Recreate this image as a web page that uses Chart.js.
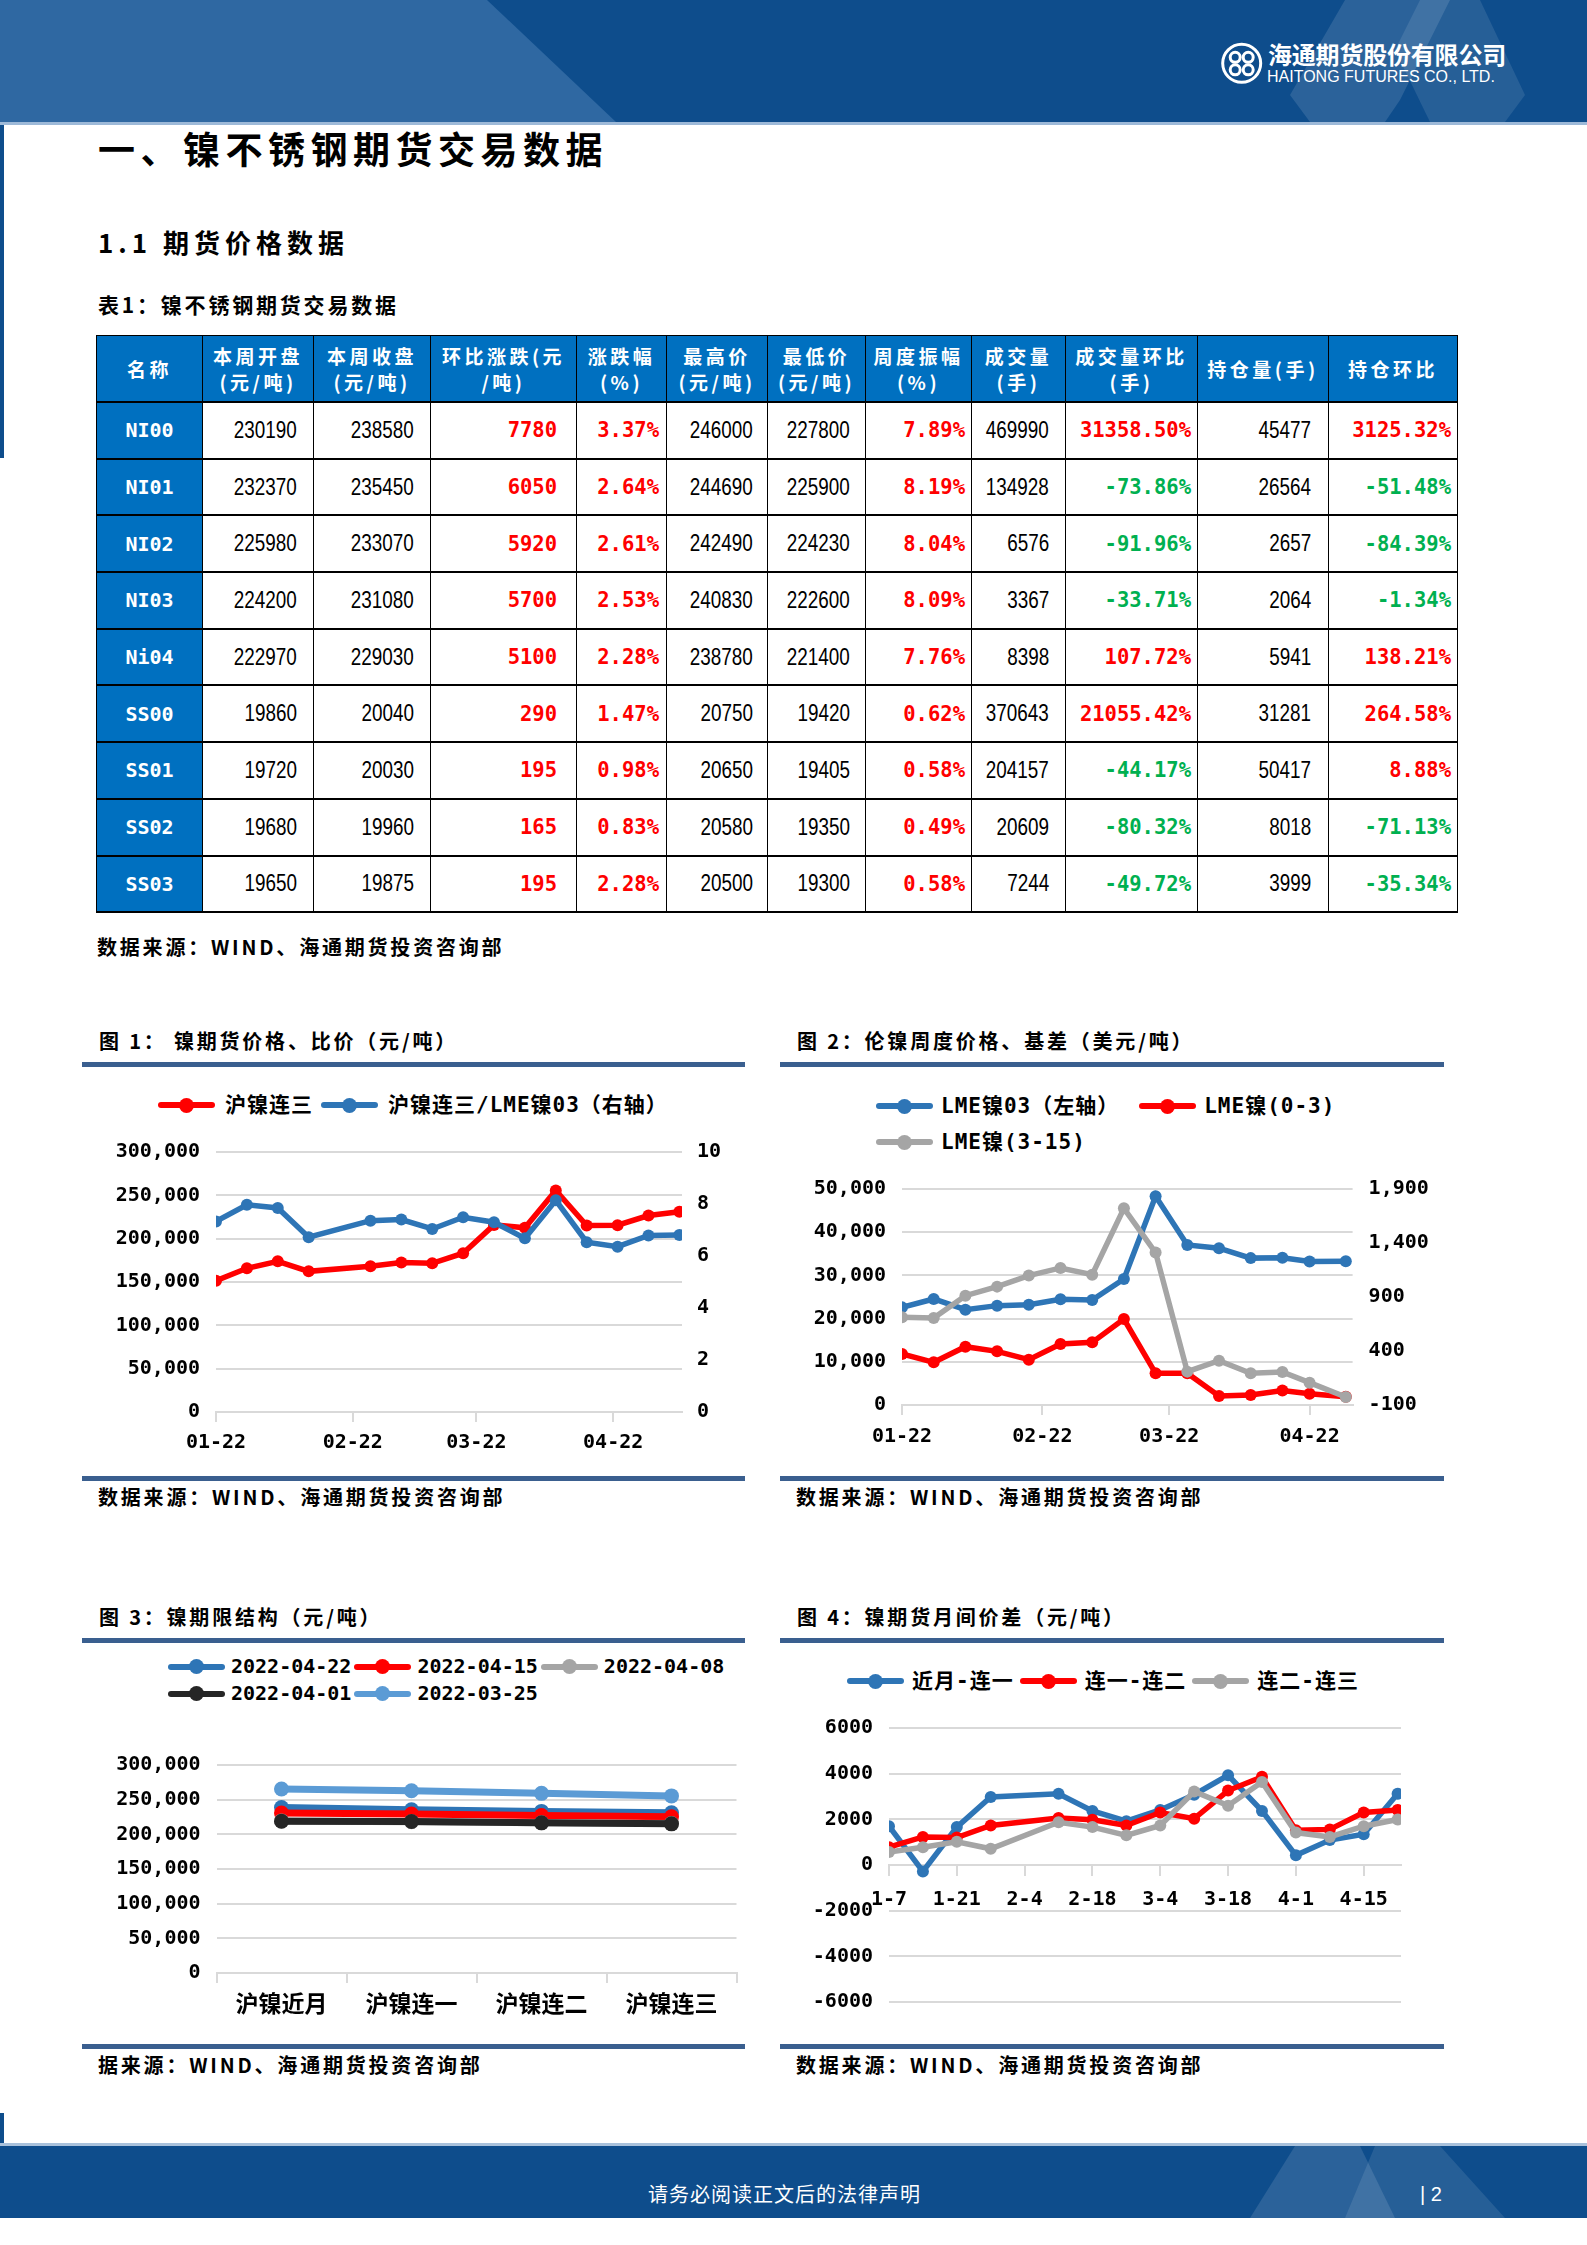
<!DOCTYPE html>
<html lang="zh-CN">
<head>
<meta charset="utf-8">
<title>镍不锈钢期货交易数据</title>
<script src="https://cdn.jsdelivr.net/npm/chart.js@4.4.1/dist/chart.umd.min.js"></script>
<style>
  body { margin:0; background:#fff; font-family:'Noto Sans CJK SC', sans-serif; color:#000; }
  #page { position:relative; width:1587px; height:2245px; overflow:hidden; }
  .abs { position:absolute; white-space:nowrap; }
  .h1 { left:98px; top:126px; font-size:37px; line-height:44px; letter-spacing:5.5px; font-weight:700; }
  .h2 { left:98px; top:225px; font-size:26px; line-height:34px; letter-spacing:5px; font-weight:700; }
  .cap { font-size:20px; line-height:26px; letter-spacing:2.8px; font-weight:700; }
  .rule { position:absolute; height:5px; background:#3A5F8F; }
  canvas { position:absolute; }
  #tbl { border-collapse:collapse; table-layout:fixed; width:1361px; }
  #tbl th { background:#0070C0; color:#fff; font-weight:700; font-size:19px; line-height:26px;
            letter-spacing:3.5px; height:65px; padding:0; border:1px solid #000; border-bottom:2px solid #000; }
  #tbl td { height:54.7px; padding:0; border:1px solid #000; border-bottom:2px solid #000; text-align:right; }
  #tbl td.nm { background:#0070C0; color:#fff; text-align:center; font-family:'DejaVu Sans Mono', monospace;
               font-weight:700; font-size:20px; }
  .n { display:inline-block; font-family:'Liberation Sans', sans-serif; font-size:23px; transform:scaleX(0.82);
       transform-origin:right center; }
  .m { font-family:'DejaVu Sans Mono', monospace; font-weight:700; font-size:20.5px; }
  .lgd { position:absolute; display:flex; flex-wrap:wrap; font-weight:700;
         font-family:'DejaVu Sans Mono','Noto Sans CJK SC',sans-serif; }
  .lg { display:inline-flex; align-items:center; white-space:nowrap; }
  .ic { position:relative; width:57px; height:15px; display:inline-block; }
  .ic b { position:absolute; left:0; right:0; top:4.5px; height:6px; border-radius:3px; }
  .ic u { position:absolute; left:21px; top:0; width:15px; height:15px; border-radius:50%; }
</style>
</head>
<body>
<div id="page">

<!-- header band -->
<svg class="abs" style="left:0;top:0" width="1587" height="130">
  <rect x="0" y="0" width="1587" height="122" fill="#0E4D8C"/>
  <polygon points="0,0 487,0 616,122 0,122" fill="#2F68A2"/>
  <polygon points="1345,0 1450,0 1400,100 1385,122 1310,122 1290,95" fill="#fff" opacity="0.12"/>
  <polygon points="1420,0 1480,0 1525,95 1505,122 1430,122 1395,50" fill="#fff" opacity="0.10"/>
  <rect x="0" y="122" width="1587" height="3" fill="#9DB9D8"/>
  <g transform="translate(1241.7,63.3)" fill="none" stroke="#fff" stroke-width="3">
    <circle r="19"/>
    <circle cx="-6.5" cy="-6" r="5"/><circle cx="6.5" cy="-6" r="5"/>
    <circle cx="-6.5" cy="6.5" r="5"/><circle cx="6.5" cy="6.5" r="5"/>
  </g>
</svg>
<div class="abs" style="left:0;top:125px;width:4px;height:333px;background:#0E4D8C"></div>
<div class="abs" style="left:1268px;top:39px;font-size:24px;line-height:30px;letter-spacing:-0.2px;font-weight:700;color:#fff">海通期货股份有限公司</div>
<div class="abs" style="left:1267px;top:67px;font-family:'Liberation Sans',sans-serif;font-size:16px;line-height:20px;color:#fff">HAITONG FUTURES CO., LTD.</div>

<div class="abs h1">一、镍不锈钢期货交易数据</div>
<div class="abs h2">1.1 期货价格数据</div>
<div class="abs cap" style="left:98px;top:291px;font-size:21px;">表1：镍不锈钢期货交易数据</div>

<table id="tbl" class="abs" style="left:96px;top:335px">
  <colgroup>
    <col style="width:106px"><col style="width:111px"><col style="width:117px"><col style="width:146px">
    <col style="width:90px"><col style="width:101px"><col style="width:98px"><col style="width:106px">
    <col style="width:94px"><col style="width:132px"><col style="width:131px"><col style="width:129px">
  </colgroup>
  <thead><tr id="thead"></tr></thead>
  <tbody id="tbody"></tbody>
</table>
<div class="abs cap" style="left:97px;top:934px">数据来源：WIND、海通期货投资咨询部</div>

<!-- chart panels -->
<div class="abs cap" style="left:99px;top:1028px">图 1：  镍期货价格、比价（元/吨）</div>
<div class="rule" style="left:82px;top:1062px;width:663px"></div>
<div class="rule" style="left:82px;top:1476px;width:663px"></div>
<div class="abs cap" style="left:98px;top:1484px">数据来源：WIND、海通期货投资咨询部</div>

<div class="abs cap" style="left:797px;top:1028px">图 2：伦镍周度价格、基差（美元/吨）</div>
<div class="rule" style="left:780px;top:1062px;width:664px"></div>
<div class="rule" style="left:780px;top:1476px;width:664px"></div>
<div class="abs cap" style="left:796px;top:1484px">数据来源：WIND、海通期货投资咨询部</div>

<div class="abs cap" style="left:99px;top:1604px">图 3：镍期限结构（元/吨）</div>
<div class="rule" style="left:82px;top:1638px;width:663px"></div>
<div class="rule" style="left:82px;top:2044px;width:663px"></div>
<div class="abs cap" style="left:98px;top:2052px">据来源：WIND、海通期货投资咨询部</div>

<div class="abs cap" style="left:797px;top:1604px">图 4：镍期货月间价差（元/吨）</div>
<div class="rule" style="left:780px;top:1638px;width:664px"></div>
<div class="rule" style="left:780px;top:2044px;width:664px"></div>
<div class="abs cap" style="left:796px;top:2052px">数据来源：WIND、海通期货投资咨询部</div>

<canvas id="c1" width="663" height="350" style="left:82px;top:1120px"></canvas>
<canvas id="c2" width="664" height="300" style="left:780px;top:1160px"></canvas>
<canvas id="c3" width="663" height="300" style="left:82px;top:1735px"></canvas>
<canvas id="c4" width="664" height="330" style="left:780px;top:1700px"></canvas>

<div id="lg1" class="lgd" style="left:158px;top:1090px;font-size:21px;line-height:30px;letter-spacing:1px"></div>
<div id="lg2" class="lgd" style="left:876px;top:1088px;width:480px;font-size:21px;line-height:36px;letter-spacing:1px"></div>
<div id="lg3" class="lgd" style="left:168px;top:1653px;width:580px;font-size:20px;line-height:27px"></div>
<div id="lg4" class="lgd" style="left:847px;top:1666px;font-size:21px;line-height:30px;letter-spacing:1px"></div>

<!-- footer -->
<div class="abs" style="left:0;top:2113px;width:4px;height:33px;background:#0E4D8C"></div>
<svg class="abs" style="left:0;top:2143px" width="1587" height="76">
  <rect x="0" y="0" width="1587" height="3" fill="#A9C1DB"/>
  <rect x="0" y="3" width="1587" height="72" fill="#0E4D8C"/>
  <polygon points="1295,3 1360,3 1395,75 1250,75" fill="#fff" opacity="0.12"/>
  <polygon points="1375,3 1440,3 1505,75 1345,75" fill="#fff" opacity="0.10"/>
</svg>
<div class="abs" style="left:648px;top:2180px;font-size:20px;line-height:28px;color:#fff;letter-spacing:1px">请务必阅读正文后的法律声明</div>
<div class="abs" style="left:1420px;top:2180px;font-size:20px;line-height:28px;color:#fff;font-family:'Liberation Sans',sans-serif">| 2</div>

</div>
<script>
// ---- table 1 ----
var tblHead = ['名称', '本周开盘<br>(元/吨)', '本周收盘<br>(元/吨)', '环比涨跌(元<br>/吨)', '涨跌幅<br>(%)', '最高价<br>(元/吨)',
  '最低价<br>(元/吨)', '周度振幅<br>(%)', '成交量<br>(手)', '成交量环比<br>(手)', '持仓量(手)', '持仓环比'];
var tblNames = ['NI00', 'NI01', 'NI02', 'NI03', 'Ni04', 'SS00', 'SS01', 'SS02', 'SS03'];
var tblOpen = [230190, 232370, 225980, 224200, 222970, 19860, 19720, 19680, 19650];
var tblClose = [238580, 235450, 233070, 231080, 229030, 20040, 20030, 19960, 19875];
var tblChg = [7780, 6050, 5920, 5700, 5100, 290, 195, 165, 195];
var tblPct = ['3.37%', '2.64%', '2.61%', '2.53%', '2.28%', '1.47%', '0.98%', '0.83%', '2.28%'];
var tblHigh = [246000, 244690, 242490, 240830, 238780, 20750, 20650, 20580, 20500];
var tblLow = [227800, 225900, 224230, 222600, 221400, 19420, 19405, 19350, 19300];
var tblAmp = ['7.89%', '8.19%', '8.04%', '8.09%', '7.76%', '0.62%', '0.58%', '0.49%', '0.58%'];
var tblVol = [469990, 134928, 6576, 3367, 8398, 370643, 204157, 20609, 7244];
var tblVolChg = ['31358.50%', '-73.86%', '-91.96%', '-33.71%', '107.72%', '21055.42%', '-44.17%', '-80.32%', '-49.72%'];
var tblOi = [45477, 26564, 2657, 2064, 5941, 31281, 50417, 8018, 3999];
var tblOiChg = ['3125.32%', '-51.48%', '-84.39%', '-1.34%', '138.21%', '264.58%', '8.88%', '-71.13%', '-35.34%'];

var padR = [0, 16, 16, 19, 7, 14, 15, 6, 16, 6, 17, 6];
document.getElementById('thead').innerHTML = tblHead.map(function (h) { return '<th>' + h + '</th>' }).join('');

function plain(v, c) { return '<td style="padding-right:' + padR[c] + 'px"><span class="n">' + v + '</span></td>' }
function colored(v, c) {
  var col = String(v).charAt(0) == '-' ? '#00B050' : '#FF0000';
  return '<td style="padding-right:' + padR[c] + 'px"><span class="m" style="color:' + col + '">' + v + '</span></td>';
}
var rows = '';
for (var i = 0; i < tblNames.length; i++) {
  rows += '<tr><td class="nm">' + tblNames[i] + '</td>' +
    plain(tblOpen[i], 1) + plain(tblClose[i], 2) + colored(tblChg[i], 3) + colored(tblPct[i], 4) +
    plain(tblHigh[i], 5) + plain(tblLow[i], 6) + colored(tblAmp[i], 7) + plain(tblVol[i], 8) +
    colored(tblVolChg[i], 9) + plain(tblOi[i], 10) + colored(tblOiChg[i], 11) + '</tr>';
}
document.getElementById('tbody').innerHTML = rows;

// ---- chart data ----
// fig 1
var c1Dates = ['01-22', '01-29', '02-05', '02-12', '02-26', '03-05', '03-12', '03-19', '03-26', '04-02', '04-09', '04-16', '04-23', '04-30', '05-07'];
var c1Ticks = ['01-22', '02-22', '03-22', '04-22'];
var c1Price = [151500, 165800, 173900, 162300, 168100, 172400, 171600, 183200, 215900, 212500, 255600, 215200, 215500, 226700, 231100];
var c1Ratio = [7.33, 7.97, 7.85, 6.72, 7.36, 7.40, 7.04, 7.49, 7.30, 6.68, 8.14, 6.53, 6.36, 6.79, 6.81];
// fig 2
var c2Dates = ['01-22', '01-29', '02-05', '02-12', '02-19', '02-26', '03-05', '03-12', '03-19', '03-26', '04-02', '04-09', '04-16', '04-22', '04-30'];
var c2Ticks = ['01-22', '02-22', '03-22', '04-22'];
var c2Lme = [22600, 24540, 22070, 23000, 23230, 24460, 24300, 29170, 48300, 37040, 36300, 34000, 34100, 33200, 33300];
var c2Cash3m = [372, 295, 440, 397, 320, 465, 480, 696, 193, 193, -17, -7, 35, 5, -23];
var c2Spread315 = [712, 706, 912, 996, 1098, 1169, 1107, 1721, 1311, 209, 310, 194, 205, 107, -26];
// fig 3
var c3Cats = ['沪镍近月', '沪镍连一', '沪镍连二', '沪镍连三'];
var c3Weeks = ['2022-04-22', '2022-04-15', '2022-04-08', '2022-04-01', '2022-03-25'];
var c3W0422 = [238580, 235450, 233070, 231080];
var c3W0415 = [230800, 229400, 227150, 225380];
var c3W0408 = [219400, 218300, 216700, 215500];
var c3W0401 = [218900, 218500, 216600, 215100];
var c3W0325 = [265300, 262800, 259100, 255400];
// fig 4
var c4Dates = ['1-7', '1-14', '1-21', '1-28', '2-11', '2-18', '2-25', '3-4', '3-11', '3-18', '3-25', '4-1', '4-8', '4-15', '4-22'];
var c4Ticks = ['1-7', '1-21', '2-4', '2-18', '3-4', '3-18', '4-1', '4-15'];
var c4NearFirst = [1700, -280, 1660, 2980, 3120, 2370, 1920, 2410, 3080, 3930, 2370, 425, 1090, 1350, 3120];
var c4FirstSecond = [780, 1230, 1205, 1730, 2060, 1985, 1730, 2300, 2030, 3260, 3860, 1520, 1560, 2300, 2410];
var c4SecondThird = [570, 780, 1020, 710, 1870, 1660, 1300, 1730, 3220, 2600, 3640, 1420, 1230, 1700, 1990];

var RED = '#FF0000', BLUE = '#2E75B6', GRAY = '#A5A5A5', GRID = '#D9D9D9';

Chart.defaults.font.family = "'DejaVu Sans Mono', 'Noto Sans CJK SC', monospace";
Chart.defaults.font.size = 20;
Chart.defaults.font.weight = 'bold';
Chart.defaults.color = '#000';
Chart.defaults.animation = false;
Chart.defaults.plugins.legend.display = false;
Chart.defaults.plugins.tooltip.enabled = false;

function dayOf(md, base) {
  var p = md.split('-'), b = base.split('-');
  return (Date.UTC(2022, p[0] - 1, +p[1]) - Date.UTC(2022, b[0] - 1, +b[1])) / 86400000;
}
function pts(dates, base, vals) {
  return dates.map(function (d, k) { return { x: dayOf(d, base), y: vals[k] } });
}
function series(label, color, data, axis, w, r) {
  return { label: label, data: data, yAxisID: axis, borderColor: color, backgroundColor: color,
    borderWidth: w, pointRadius: r, pointHoverRadius: r, pointBorderWidth: 0, tension: 0 };
}
function stackOrder(sets) { sets.forEach(function (s, i) { s.order = sets.length - i }); return sets; }

function dateAxis(ticks, base, max, height, pad) {
  return {
    type: 'linear', min: 0, max: max, bounds: 'data',
    afterBuildTicks: function (s) { s.ticks = ticks.map(function (t) { return { value: dayOf(t, base) } }) },
    ticks: { autoSkip: false, maxRotation: 0, padding: pad, callback: function (v, i) { return ticks[i] } },
    grid: { drawOnChartArea: false, color: GRID, lineWidth: 2, tickLength: 10 },
    border: { color: GRID, width: 2 },
    afterFit: function (s) { if (height) s.height = height }
  };
}
function valAxis(pos, min, max, step, width, pad) {
  return {
    type: 'linear', position: pos, min: min, max: max, bounds: 'data',
    ticks: { stepSize: step, padding: pad },
    grid: pos == 'left' ? { color: GRID, lineWidth: 2, drawTicks: false } : { drawOnChartArea: false, drawTicks: false },
    border: { display: false },
    afterFit: function (s) { s.width = width }
  };
}
function htmlLegend(chart, id, gap, after) {
  var el = document.getElementById(id);
  chart.data.datasets.forEach(function (ds) {
    var it = document.createElement('span');
    it.className = 'lg';
    it.style.marginRight = after + 'px';
    it.innerHTML = '<i class="ic" style="margin-right:' + gap + 'px"><b style="background:' + ds.borderColor +
      '"></b><u style="background:' + ds.borderColor + '"></u></i><span>' + ds.label + '</span>';
    el.appendChild(it);
  });
}
var base = { responsive: false, devicePixelRatio: 1 };

// fig 1
var ch1 = new Chart(document.getElementById('c1'), {
  type: 'line',
  data: { datasets: stackOrder([
    series('沪镍连三', RED, pts(c1Dates, '01-22', c1Price), 'y', 5.5, 6),
    series('沪镍连三/LME镍03（右轴）', BLUE, pts(c1Dates, '01-22', c1Ratio), 'y1', 5.5, 6)
  ]) },
  options: Object.assign({}, base, {
    layout: { padding: { top: 32, left: 0, right: 0, bottom: 0 } },
    scales: {
      x: dateAxis(c1Ticks, '01-22', 105.6, 58, 9),
      y: valAxis('left', 0, 300000, 50000, 134, 16),
      y1: valAxis('right', 0, 10, 2, 63, 15)
    }
  })
});
htmlLegend(ch1, 'lg1', 10, 8);

// fig 2
var ch2 = new Chart(document.getElementById('c2'), {
  type: 'line',
  data: { datasets: stackOrder([
    series('LME镍03（左轴）', BLUE, pts(c2Dates, '01-22', c2Lme), 'y', 5.5, 6),
    series('LME镍(0-3)', RED, pts(c2Dates, '01-22', c2Cash3m), 'y1', 5.5, 6),
    series('LME镍(3-15)', GRAY, pts(c2Dates, '01-22', c2Spread315), 'y1', 5.5, 6)
  ]) },
  options: Object.assign({}, base, {
    layout: { padding: { top: 29, left: 0, right: 0, bottom: 0 } },
    scales: {
      x: dateAxis(c2Ticks, '01-22', 99.5, 55, 10),
      y: valAxis('left', 0, 50000, 10000, 122, 16),
      y1: valAxis('right', -100, 1900, 500, 91.4, 16)
    }
  })
});
htmlLegend(ch2, 'lg2', 8, 20);

// fig 3
var c3Colors = ['#2E75B6', '#FF0000', '#A5A5A5', '#262626', '#5B9BD5'];
var c3Vals = [c3W0422, c3W0415, c3W0408, c3W0401, c3W0325];
var ch3 = new Chart(document.getElementById('c3'), {
  type: 'line',
  data: {
    labels: c3Cats,
    datasets: stackOrder(c3Weeks.map(function (w, i) { return series(w, c3Colors[i], c3Vals[i], 'y', 7, 7.5) }))
  },
  options: Object.assign({}, base, {
    layout: { padding: { top: 30, left: 0, right: 8.5, bottom: 0 } },
    scales: {
      x: {
        type: 'category', offset: true,
        ticks: { padding: 6, font: { family: "'Noto Sans CJK SC'", size: 23 } },
        grid: { offset: true, drawOnChartArea: false, color: GRID, lineWidth: 2, tickLength: 10 },
        border: { color: GRID, width: 2 },
        afterFit: function (s) { s.height = 62 }
      },
      y: valAxis('left', 0, 300000, 50000, 134.5, 16)
    }
  })
});
htmlLegend(ch3, 'lg3', 6, 3);

// fig 4
var y4 = valAxis('left', -6000, 6000, 2000, 109, 16);
y4.ticks.callback = function (v) { return String(v) };
var x4 = dateAxis(c4Ticks, '1-7', 105.7, 0, 13);
x4.position = { y: 0 };
var ch4 = new Chart(document.getElementById('c4'), {
  type: 'line',
  data: { datasets: stackOrder([
    series('近月-连一', BLUE, pts(c4Dates, '1-7', c4NearFirst), 'y', 5.5, 6),
    series('连一-连二', RED, pts(c4Dates, '1-7', c4FirstSecond), 'y', 5.5, 6),
    series('连二-连三', GRAY, pts(c4Dates, '1-7', c4SecondThird), 'y', 5.5, 6)
  ]) },
  options: Object.assign({}, base, {
    layout: { padding: { top: 27.7, left: 0, right: 43, bottom: 20.7 } },
    scales: { x: x4, y: y4 }
  })
});
htmlLegend(ch4, 'lg4', 8, 6);
</script>
</body>
</html>
